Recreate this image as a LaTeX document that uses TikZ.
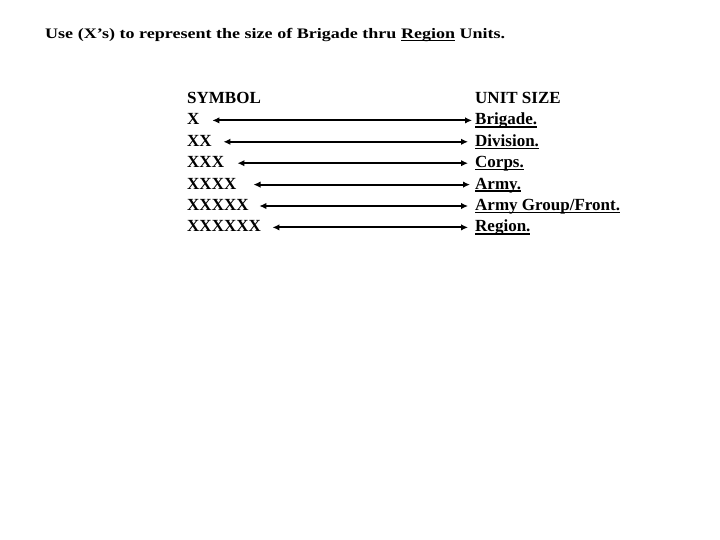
\documentclass[tikz,border=0pt]{standalone}
\usepackage{fontspec}
\setmainfont{Liberation Serif}
\usetikzlibrary{arrows.meta}
\tikzset{
  lbl/.style={inner sep=0pt, anchor=base west, font=\fontsize{17}{20}\selectfont\bfseries, text height=12pt, text depth=4pt},
  arr/.style={line width=2pt, {Latex[length=7pt,width=6.5pt]}-{Latex[length=7pt,width=6.5pt]}},
}
\newcommand{\ul}[1]{\setbox0\hbox{#1}\rlap{\rule[-2.8pt]{\wd0}{1.4pt}}\box0\relax}
\begin{document}
\begin{tikzpicture}[x=1pt,y=-1pt]
\useasboundingbox (0,0) rectangle (720,540);
\node[inner sep=0pt, anchor=base west, font=\fontsize{14.5}{16}\selectfont\bfseries] (title) at (45,38.3)
  {\resizebox{460pt}{\height}{Use (X’s) to represent the size of Brigade thru \ul{Region} Units.}};
\node[lbl] (sh) at (187,103.5) {SYMBOL};
\node[lbl] (uh) at (475,103.5) {UNIT SIZE};
\node[lbl] (s1) at (187,124.9) {X};
\node[lbl] (s2) at (187,146.3) {XX};
\node[lbl] (s3) at (187,167.7) {XXX};
\node[lbl] (s4) at (187,189.1) {XXXX};
\node[lbl] (s5) at (187,210.5) {XXXXX};
\node[lbl] (s6) at (187,231.9) {XXXXXX};
\node[lbl] (u1) at (475,124.9) {\ul{Brigade.}};
\node[lbl] (u2) at (475,146.3) {\ul{Division.}};
\node[lbl] (u3) at (475,167.7) {\ul{Corps.}};
\node[lbl] (u4) at (475,189.1) {\ul{Army.}};
\node[lbl] (u5) at (475,210.5) {\ul{Army Group/Front.}};
\node[lbl] (u6) at (475,231.9) {\ul{Region.}};
\draw[arr] ([xshift=12.7pt,yshift=0.5pt]s1.east) -- ([xshift=-3pt,yshift=0.5pt]u1.west);
\draw[arr] ([xshift=11.5pt,yshift=0.5pt]s2.east) -- ([xshift=-7pt,yshift=0.5pt]u2.west);
\draw[arr] ([xshift=13.2pt,yshift=0.5pt]s3.east) -- ([xshift=-7pt,yshift=0.5pt]u3.west);
\draw[arr] ([xshift=17pt,yshift=0.5pt]s4.east) -- ([xshift=-5pt,yshift=0.5pt]u4.west);
\draw[arr] ([xshift=10.6pt,yshift=0.5pt]s5.east) -- ([xshift=-7pt,yshift=0.5pt]u5.west);
\draw[arr] ([xshift=11.4pt,yshift=0.5pt]s6.east) -- ([xshift=-7pt,yshift=0.5pt]u6.west);
\end{tikzpicture}
\end{document}
